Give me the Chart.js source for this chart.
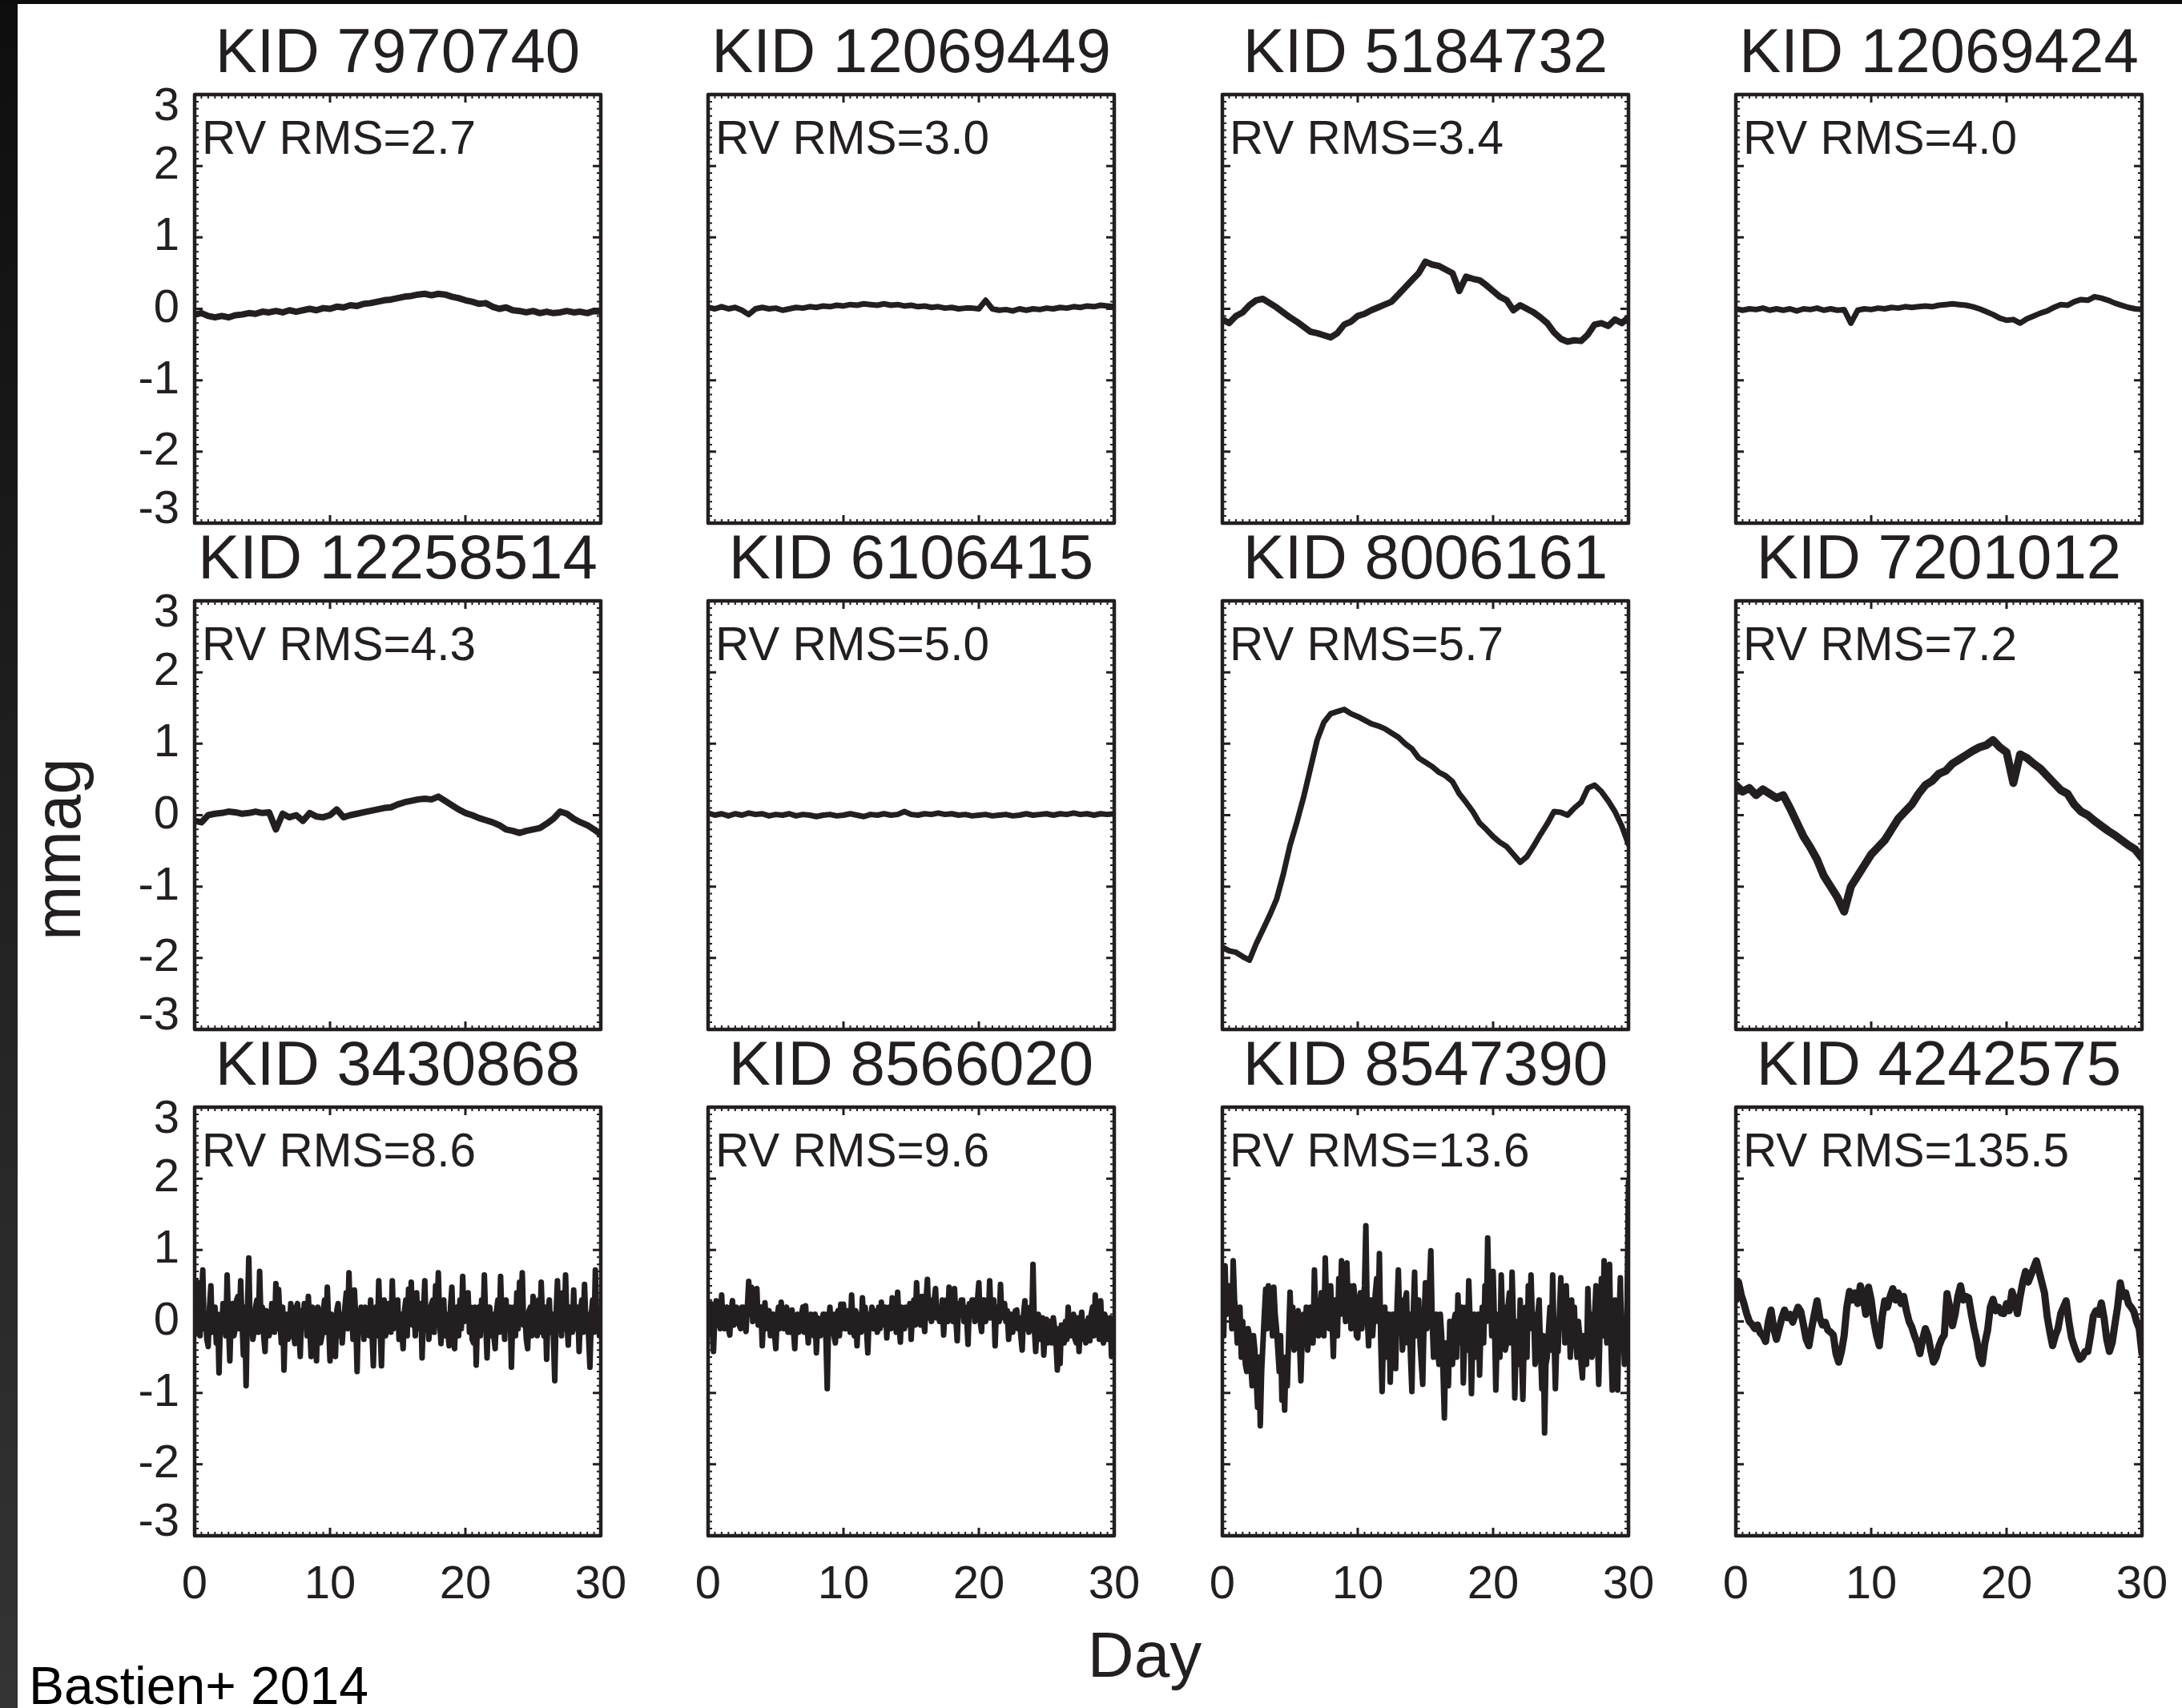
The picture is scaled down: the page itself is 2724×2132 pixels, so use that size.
<!DOCTYPE html>
<html>
<head>
<meta charset="utf-8">
<title>Kepler light curves vs RV RMS</title>
<script src="https://cdn.jsdelivr.net/npm/chart.js@4.4.1/dist/chart.umd.min.js"></script>
<style>
  html, body { margin: 0; padding: 0; background: #fff; }
  #page {
    position: relative; width: 2724px; height: 2132px; overflow: hidden;
    background: #fff; font-family: "Liberation Sans", Arial, sans-serif; color: #231f20;
  }
  #edgeLeft { position: absolute; left: 0; top: 0; width: 22px; height: 2132px; background: linear-gradient(#0e0e0e, #343434); }
  #edgeTop { position: absolute; left: 0; top: 0; width: 2724px; height: 5px; background: #0b0b0b; }
  canvas.panel { position: absolute; }
  .label { position: absolute; white-space: nowrap; line-height: 1; }
  #yTitle { left: 72px; top: 1060px; font-size: 82px; transform: translate(-50%, -50%) rotate(-90deg); }
  #xTitle { left: 1429px; top: 2026px; font-size: 80px; transform: translateX(-50%); }
  #credit { left: 36px; top: 2071px; font-size: 66px; color: #000; }
</style>
</head>
<body>
<div id="page">
  <div id="edgeLeft"></div>
  <div id="edgeTop"></div>
  <div class="label" id="yTitle">mmag</div>
  <div class="label" id="xTitle">Day</div>
  <div class="label" id="credit">Bastien+ 2014</div>
</div>
<script>
/* DATA */
const TITLES = [
  "KID 7970740", "KID 12069449", "KID 5184732", "KID 12069424",
  "KID 12258514", "KID 6106415", "KID 8006161", "KID 7201012",
  "KID 3430868", "KID 8566020", "KID 8547390", "KID 4242575",
];
const RV_NOTES = [
  "RV RMS=2.7", "RV RMS=3.0", "RV RMS=3.4", "RV RMS=4.0",
  "RV RMS=4.3", "RV RMS=5.0", "RV RMS=5.7", "RV RMS=7.2",
  "RV RMS=8.6", "RV RMS=9.6", "RV RMS=13.6", "RV RMS=135.5",
];
const X_TICKS = [0, 10, 20, 30];
const Y_TICKS = [-3, -2, -1, 0, 1, 2, 3];

// mmag, sampled evenly over the 30 days
const kid7970740 = [
  -0.08,-0.06,-0.1,-0.12,-0.1,-0.12,-0.09,-0.08,-0.06,-0.07,
  -0.04,-0.05,-0.03,-0.05,-0.02,-0.04,-0.02,0.0,-0.02,0.01,
  0.0,0.03,0.02,0.05,0.04,0.07,0.08,0.1,0.12,0.13,
  0.15,0.17,0.18,0.2,0.21,0.19,0.21,0.2,0.17,0.15,
  0.12,0.1,0.07,0.08,0.03,0.0,0.02,-0.02,-0.03,-0.05,
  -0.03,-0.06,-0.04,-0.06,-0.05,-0.03,-0.05,-0.04,-0.06,-0.03,
  -0.04,
];
const kid12069449 = [
  0.02,0.0,0.03,0.0,0.02,-0.02,-0.08,0.0,0.02,0.0,
  0.01,-0.02,0.0,0.02,0.01,0.03,0.02,0.04,0.03,0.05,
  0.04,0.06,0.05,0.07,0.06,0.05,0.07,0.05,0.06,0.04,
  0.05,0.03,0.04,0.02,0.03,0.01,0.02,0.0,0.01,0.01,
  0.0,0.12,0.0,-0.02,-0.01,-0.03,0.0,-0.02,0.0,-0.01,
  0.01,0.0,0.02,0.01,0.03,0.02,0.04,0.03,0.05,0.04,
  0.03,
];
const kid5184732 = [
  -0.15,-0.2,-0.1,-0.05,0.05,0.12,0.14,0.08,0.02,-0.05,
  -0.12,-0.18,-0.25,-0.32,-0.34,-0.37,-0.4,-0.34,-0.22,-0.18,
  -0.1,-0.07,-0.02,0.02,0.06,0.1,0.2,0.3,0.4,0.5,
  0.66,0.62,0.6,0.55,0.5,0.25,0.45,0.42,0.4,0.33,
  0.25,0.17,0.12,-0.02,0.05,0.0,-0.05,-0.12,-0.2,-0.33,
  -0.42,-0.46,-0.44,-0.45,-0.36,-0.22,-0.2,-0.24,-0.15,-0.2,
  -0.12,
];
const kid12069424 = [
  0.0,-0.02,0.0,-0.01,0.01,-0.02,0.0,-0.02,0.0,-0.03,
  0.0,-0.01,0.01,-0.02,0.0,-0.02,-0.01,-0.2,-0.02,0.0,
  -0.01,0.01,0.0,0.02,0.01,0.03,0.02,0.03,0.04,0.03,
  0.05,0.06,0.07,0.06,0.05,0.03,0.0,-0.04,-0.08,-0.13,
  -0.16,-0.15,-0.2,-0.14,-0.1,-0.06,-0.03,0.02,0.06,0.05,
  0.1,0.13,0.12,0.17,0.15,0.12,0.08,0.05,0.02,0.0,
  -0.01,
];
const kid12258514 = [
  -0.08,-0.1,0.0,0.02,0.03,0.05,0.04,0.02,0.03,0.05,
  0.03,0.04,-0.2,0.02,-0.03,0.0,-0.08,0.03,-0.02,-0.03,
  0.0,0.08,-0.03,0.0,0.02,0.04,0.06,0.08,0.1,0.11,
  0.15,0.18,0.2,0.22,0.23,0.22,0.26,0.2,0.14,0.08,
  0.03,0.0,-0.04,-0.07,-0.1,-0.14,-0.2,-0.22,-0.25,-0.22,
  -0.2,-0.18,-0.12,-0.05,0.05,0.02,-0.05,-0.1,-0.14,-0.2,
  -0.27,
];
const kid6106415 = [
  0.03,0.0,0.02,-0.01,0.02,0.0,0.03,0.01,0.02,-0.01,
  0.01,0.0,0.02,-0.01,0.01,0.0,-0.02,0.0,0.01,-0.01,
  0.0,0.02,0.0,-0.02,0.01,0.0,0.02,0.0,0.01,0.05,
  0.01,0.0,0.02,0.01,0.03,0.01,0.02,0.0,0.01,-0.01,
  0.0,0.01,-0.01,0.0,0.01,-0.01,0.0,0.02,0.0,0.01,
  0.02,0.0,0.02,0.01,0.03,0.01,0.02,0.0,0.02,0.01,
  0.02,
];
const kid8006161 = [
  -1.85,-1.9,-1.92,-1.98,-2.03,-1.8,-1.6,-1.4,-1.18,-0.83,
  -0.42,-0.1,0.25,0.65,1.05,1.3,1.42,1.45,1.48,1.42,
  1.38,1.33,1.28,1.25,1.21,1.15,1.09,1.0,0.93,0.8,
  0.74,0.68,0.6,0.55,0.47,0.3,0.18,0.05,-0.11,-0.2,
  -0.3,-0.38,-0.44,-0.55,-0.66,-0.58,-0.43,-0.27,-0.12,0.05,
  0.04,0.0,0.1,0.18,0.38,0.42,0.33,0.2,0.05,-0.15,
  -0.41,
];
const kid7201012 = [
  0.42,0.33,0.38,0.28,0.36,0.3,0.24,0.28,0.1,-0.1,
  -0.3,-0.45,-0.62,-0.85,-1.0,-1.15,-1.35,-1.0,-0.85,-0.7,
  -0.55,-0.45,-0.35,-0.2,-0.05,0.05,0.15,0.3,0.42,0.48,
  0.58,0.62,0.72,0.78,0.84,0.9,0.95,0.98,1.05,0.95,
  0.88,0.45,0.85,0.8,0.72,0.65,0.55,0.45,0.35,0.3,
  0.15,0.05,0.0,-0.08,-0.15,-0.22,-0.28,-0.35,-0.42,-0.48,
  -0.6,
];
const kid3430868 = [
  0.3,-0.15,0.55,0.1,-0.2,0.25,0.72,-0.1,0.1,-0.25,-0.35,0.2,0.5,-0.15,0.05,0.2,-0.3,0.1,-0.72,0.0,
  -0.1,0.25,0.2,-0.2,0.65,-0.05,-0.55,0.1,0.25,-0.2,-0.1,0.3,0.35,-0.1,0.57,0.0,-0.47,0.2,-0.9,0.15,
  0.89,-0.1,0.1,-0.25,-0.12,0.2,0.3,-0.15,0.7,0.0,0.2,-0.2,-0.42,0.15,0.1,-0.2,-0.1,0.25,0.2,-0.15,
  0.53,-0.1,0.45,0.05,-0.3,0.2,-0.68,0.05,0.1,-0.25,-0.2,0.25,0.05,-0.15,-0.31,0.2,0.25,-0.1,-0.49,0.15,
  0.0,0.25,0.2,-0.2,0.35,-0.05,-0.49,0.2,0.1,-0.25,-0.55,0.2,0.05,-0.3,-0.2,0.15,0.3,-0.15,0.48,-0.05,
  -0.55,0.1,0.0,-0.25,-0.49,0.15,0.25,-0.2,0.1,-0.3,0.0,0.2,0.4,-0.1,0.68,0.0,0.1,-0.25,0.44,0.05,
  -0.7,0.15,-0.1,0.2,0.05,-0.25,0.2,-0.1,0.1,-0.2,0.3,-0.15,-0.62,0.1,0.2,-0.2,0.57,-0.05,-0.62,0.1,
  0.3,-0.2,-0.1,0.25,0.2,-0.15,0.57,-0.1,0.0,0.2,0.3,-0.25,0.1,-0.15,-0.38,0.15,0.3,-0.2,0.45,0.0,
  0.55,-0.05,0.2,-0.2,0.4,-0.1,-0.1,0.25,-0.51,0.1,0.57,-0.1,0.2,-0.25,0.0,0.25,0.3,-0.15,0.5,-0.05,
  0.68,0.0,-0.31,0.2,0.3,-0.2,0.1,-0.15,-0.34,0.2,0.48,-0.1,-0.38,0.15,0.2,-0.2,0.3,-0.1,0.63,0.0,
  0.1,0.2,0.4,-0.15,0.2,-0.25,-0.3,0.2,-0.61,0.1,0.2,-0.2,0.3,-0.1,0.65,0.0,-0.51,0.15,0.2,-0.2,
  0.1,-0.2,-0.38,0.15,0.3,-0.15,0.63,0.0,0.1,-0.25,0.3,-0.1,0.0,0.2,-0.64,0.1,0.2,-0.2,0.4,-0.1,
  0.55,0.0,0.68,-0.05,0.1,-0.25,-0.38,0.15,0.2,-0.2,0.35,-0.1,0.1,-0.2,0.3,-0.15,0.55,0.0,-0.2,0.2,
  -0.53,0.1,0.3,-0.15,0.1,-0.2,-0.83,0.1,0.57,-0.05,0.2,-0.2,0.4,-0.1,0.65,0.0,-0.33,0.2,0.2,-0.15,
  0.44,-0.1,0.0,0.2,-0.42,0.15,0.3,-0.15,0.52,-0.05,0.1,-0.2,-0.64,0.1,0.3,-0.15,0.72,0.0,0.1,-0.2,
  0.0,
];
const kid8566020 = [
  0.0,0.15,0.25,-0.1,-0.42,0.1,0.29,-0.05,0.1,-0.1,0.37,-0.05,-0.1,0.15,0.2,-0.1,-0.19,0.15,0.29,-0.05,
  0.05,0.2,0.15,-0.05,-0.1,0.2,0.2,-0.05,-0.14,0.2,0.56,0.1,0.48,0.0,0.2,0.2,0.46,-0.05,0.1,0.2,
  -0.34,0.1,0.26,-0.1,0.0,0.15,-0.2,0.1,0.1,-0.15,-0.38,0.05,0.2,-0.1,0.27,-0.05,-0.1,0.15,0.2,-0.15,
  0.05,-0.15,0.16,-0.1,-0.38,0.05,0.1,-0.15,0.0,0.1,0.2,-0.15,0.22,-0.05,-0.3,0.05,0.1,-0.15,-0.2,0.1,
  -0.44,0.05,0.03,-0.2,-0.1,0.1,0.1,-0.2,-0.94,0.0,0.2,-0.15,0.1,-0.2,-0.3,0.1,0.15,-0.2,0.24,-0.1,
  0.24,-0.1,-0.1,0.15,0.1,-0.15,0.37,-0.05,-0.2,0.15,-0.34,0.1,0.05,-0.15,0.33,-0.05,0.2,-0.1,-0.44,0.1,
  0.0,0.2,-0.1,0.15,0.1,-0.15,0.2,-0.1,0.27,-0.05,0.0,0.2,-0.23,0.15,0.2,-0.1,0.33,-0.05,0.1,-0.15,
  0.41,0.0,-0.29,0.2,0.1,-0.1,0.2,-0.05,0.0,0.25,-0.25,0.15,0.3,-0.05,0.54,0.05,0.2,-0.05,0.35,0.05,
  -0.14,0.3,0.59,0.05,0.3,0.0,0.1,0.3,0.46,0.05,0.2,0.0,0.0,0.3,-0.19,0.25,0.3,0.0,0.48,0.05,
  0.2,0.0,0.46,0.05,-0.27,0.25,0.1,0.3,0.3,0.0,0.2,0.05,-0.32,0.25,0.1,0.3,0.3,0.0,0.2,0.3,
  0.54,0.0,-0.14,0.3,0.3,0.0,0.2,0.05,0.57,0.05,0.1,0.3,-0.34,0.2,0.2,0.0,0.52,0.05,0.1,0.25,
  0.0,0.15,-0.25,0.1,0.1,-0.15,0.0,0.15,0.16,-0.1,0.05,-0.2,-0.4,0.1,0.29,-0.1,0.1,-0.15,0.2,-0.1,
  0.8,-0.1,-0.42,0.0,0.1,-0.25,-0.2,0.05,-0.47,-0.05,0.03,-0.3,-0.2,0.0,-0.3,0.05,-0.1,-0.3,-0.68,-0.1,
  -0.59,-0.05,-0.1,-0.3,0.0,-0.25,0.2,-0.2,-0.2,0.05,0.1,-0.25,-0.3,0.05,-0.42,-0.05,0.13,-0.25,0.0,-0.3,
  -0.2,0.05,-0.27,0.1,0.2,-0.2,0.37,-0.1,0.1,-0.25,0.29,-0.15,-0.3,0.1,0.0,-0.25,-0.2,0.05,-0.49,-0.15,
  -0.3,
];
const kid8547390 = [
  0.3,-0.2,0.78,0.1,0.2,0.5,0.5,-0.1,0.85,0.3,0.1,-0.3,-0.2,0.2,-0.5,0.0,-0.3,-0.6,-0.7,-0.1,
  -0.2,-0.6,-0.9,-0.2,-0.4,-0.8,-1.2,-0.5,-1.46,-0.7,-0.3,0.1,0.45,-0.1,0.5,0.0,0.3,-0.2,0.48,0.1,
  -0.1,-0.4,-0.7,-0.2,-1.1,-0.6,-1.24,-0.5,-0.9,-0.2,0.41,-0.1,0.2,-0.4,-0.3,0.1,0.15,-0.3,-0.83,-0.2,
  0.1,-0.3,0.2,-0.4,-0.2,0.2,0.15,-0.3,0.72,0.0,0.3,-0.2,0.0,0.4,0.2,-0.2,0.89,0.2,0.3,-0.1,
  0.5,0.0,-0.49,0.3,0.2,-0.2,0.6,0.1,0.85,0.2,0.4,0.0,0.82,0.1,0.5,-0.1,0.2,0.5,0.3,-0.2,
  -0.23,0.2,0.4,-0.1,0.2,0.5,1.34,0.1,-0.34,0.3,0.3,-0.2,0.1,0.4,0.6,0.0,0.95,-0.3,-0.98,-0.2,
  0.2,-0.5,-0.4,0.1,-0.85,-0.2,0.1,-0.4,-0.66,0.2,0.72,0.0,0.3,-0.4,-0.2,0.3,0.4,-0.3,0.1,-0.5,
  -0.98,0.1,0.69,-0.2,0.0,0.3,-0.3,-0.6,-0.88,0.0,0.54,-0.1,0.2,0.5,0.99,0.0,-0.5,-0.1,0.1,-0.4,
  -0.6,0.1,-0.2,-0.7,-1.35,-0.3,-0.4,-0.9,0.0,-0.5,-0.6,0.0,0.1,-0.5,0.37,-0.2,-0.3,0.2,-0.86,-0.2,
  0.2,-0.4,0.57,0.0,-1.01,-0.2,0.1,-0.5,-0.4,0.1,-0.75,-0.1,0.2,-0.3,0.5,0.0,1.17,0.2,0.4,-0.2,
  0.7,0.0,-0.96,-0.2,0.1,-0.5,0.65,0.0,0.2,-0.4,-0.3,0.2,0.4,-0.3,0.69,0.0,-1.07,-0.3,0.0,-0.6,
  0.3,-0.5,-1.09,-0.2,0.2,-0.5,0.5,-0.1,0.65,0.0,0.1,-0.6,-0.4,0.1,0.3,-0.4,-0.94,-0.2,-1.56,-0.6,
  -0.5,-0.1,0.2,-0.4,0.65,-0.2,-0.94,-0.3,-0.42,0.1,0.61,0.0,0.4,-0.3,0.5,-0.1,0.1,-0.5,0.3,-0.3,
  0.2,-0.3,-0.5,0.0,-0.2,-0.6,-0.79,-0.2,-0.3,-0.6,0.46,-0.1,0.1,-0.5,-0.4,0.1,0.5,-0.2,-0.88,-0.1,
  0.6,-0.2,0.85,0.1,-0.3,0.3,0.8,-0.3,-0.96,0.0,0.3,-0.4,-0.96,0.0,0.61,-0.3,0.0,-0.6,-0.5,0.3,
  1.95,
];
const kid4242575 = [
  0.3,0.55,0.37,0.25,0.11,0.0,-0.04,-0.1,-0.05,-0.16,
  -0.2,-0.28,0.0,0.16,-0.1,-0.25,-0.1,0.05,0.16,0.05,
  0.1,-0.01,0.1,0.2,0.14,-0.05,-0.25,-0.34,-0.1,0.1,
  0.29,0.05,-0.05,-0.01,-0.12,-0.15,-0.19,-0.45,-0.57,-0.42,
  -0.2,0.2,0.42,0.3,0.4,0.25,0.5,0.35,0.1,0.48,
  0.3,0.0,-0.2,-0.34,0.05,0.29,0.2,0.35,0.46,0.3,
  0.4,0.25,0.35,0.15,0.0,-0.08,-0.2,-0.3,-0.45,-0.25,
  -0.1,-0.2,-0.4,-0.57,-0.5,-0.35,-0.25,-0.19,0.39,0.2,
  -0.06,0.1,0.35,0.5,0.3,0.35,0.33,0.1,-0.1,-0.27,
  -0.5,-0.59,-0.3,-0.12,0.2,0.31,0.15,0.2,0.12,0.11,
  0.25,0.15,0.42,0.3,0.11,0.35,0.55,0.7,0.55,0.65,
  0.75,0.85,0.7,0.55,0.4,0.07,-0.15,-0.34,-0.2,-0.1,
  0.11,0.2,0.29,0.0,-0.23,-0.35,-0.45,-0.53,-0.5,-0.42,
  -0.42,-0.2,0.07,0.15,0.1,0.26,0.05,-0.25,-0.42,-0.3,
  -0.04,0.2,0.54,0.35,0.4,0.25,0.2,0.14,0.0,-0.1,
  -0.45,
];

const SERIES = [
  kid7970740, kid12069449, kid5184732, kid12069424,
  kid12258514, kid6106415, kid8006161, kid7201012,
  kid3430868, kid8566020, kid8547390, kid4242575,
];

/* LAYOUT */
const INK = "#231f20";
const FONT = "'Liberation Sans', Arial, Helvetica, sans-serif";
const BOX_LEFT = [243, 884, 1526, 2167];
const BOX_TOP = [118, 750, 1382];
const BOX_W = 507;
const BOX_H = 535;
const AXIS_W = 120;   // room for y tick labels left of the box
const HEAD_H = 118;   // title block above the box
const FOOT_H = 110;   // x tick labels below the box
const PAD_R = 45;
// trace thickness per panel (noisier stars get a fatter trace, as in the print)
const LINE_W = [8, 7, 8, 7, 8, 7, 7, 10, 7, 7, 7, 9];

Chart.defaults.font.family = FONT;
Chart.defaults.color = INK;

/* HELPERS */
function toPoints(vals) {
  const x0 = X_TICKS[0];
  const step = (X_TICKS[X_TICKS.length - 1] - x0) / (vals.length - 1);
  return vals.map((v, i) => ({ x: x0 + i * step, y: v }));
}

// end labels sit inside the box in the original, so nudge them with an empty line
function yTickLabel(v) {
  if (v === Y_TICKS[Y_TICKS.length - 1]) return ["", String(v)];
  if (v === Y_TICKS[0]) return [String(v), ""];
  return String(v);
}

// matlab-like box: frame, inward ticks, and the RV note in the corner
const framePlugin = {
  id: "frame",
  afterDatasetsDraw(chart, args, opts) {
    const { ctx, chartArea: a, scales } = chart;
    const x = scales.x, y = scales.y;
    ctx.save();
    ctx.strokeStyle = INK;
    ctx.lineCap = "butt";

    // minor ticks
    ctx.lineWidth = 2;
    ctx.beginPath();
    for (let k = 0; k <= 60; k++) {
      const px = x.getPixelForValue(k / 2);
      ctx.moveTo(px, a.top); ctx.lineTo(px, a.top + 5);
      ctx.moveTo(px, a.bottom); ctx.lineTo(px, a.bottom - 5);
    }
    for (let k = -30; k <= 30; k++) {
      const py = y.getPixelForValue(k / 10);
      ctx.moveTo(a.left, py); ctx.lineTo(a.left + 5, py);
      ctx.moveTo(a.right, py); ctx.lineTo(a.right - 5, py);
    }
    ctx.stroke();

    // major ticks
    ctx.lineWidth = 3;
    ctx.beginPath();
    X_TICKS.forEach((v) => {
      const px = x.getPixelForValue(v);
      ctx.moveTo(px, a.top); ctx.lineTo(px, a.top + 10);
      ctx.moveTo(px, a.bottom); ctx.lineTo(px, a.bottom - 10);
    });
    Y_TICKS.forEach((v) => {
      const py = y.getPixelForValue(v);
      ctx.moveTo(a.left, py); ctx.lineTo(a.left + 10, py);
      ctx.moveTo(a.right, py); ctx.lineTo(a.right - 10, py);
    });
    ctx.stroke();

    ctx.lineWidth = 4.5;
    ctx.lineJoin = "round";
    ctx.strokeRect(a.left, a.top, a.right - a.left, a.bottom - a.top);

    ctx.fillStyle = INK;
    ctx.font = "58.5px " + FONT;
    ctx.textAlign = "left";
    ctx.textBaseline = "alphabetic";
    ctx.fillText(opts.note, a.left + 9, a.top + 74);
    ctx.restore();
  },
};

/* PANELS */
const page = document.getElementById("page");

function makePanel(idx) {
  const col = idx % 4;
  const row = Math.floor(idx / 4);
  const canvas = document.createElement("canvas");
  canvas.className = "panel";
  canvas.width = AXIS_W + BOX_W + PAD_R;
  canvas.height = HEAD_H + BOX_H + FOOT_H;
  canvas.style.left = BOX_LEFT[col] - AXIS_W + "px";
  canvas.style.top = BOX_TOP[row] - HEAD_H + "px";
  page.appendChild(canvas);

  return new Chart(canvas, {
    type: "line",
    data: {
      datasets: [{
        data: toPoints(SERIES[idx]),
        borderColor: INK,
        borderWidth: LINE_W[idx],
        pointRadius: 0,
        tension: 0,
        borderJoinStyle: "round",
        borderCapStyle: "round",
        clip: 0,
      }],
    },
    options: {
      responsive: false,
      animation: false,
      devicePixelRatio: 1,
      events: [],
      layout: { padding: { left: 0, top: 0, right: PAD_R, bottom: 0 } },
      plugins: {
        legend: { display: false },
        tooltip: { enabled: false },
        title: {
          display: true,
          text: TITLES[idx],
          fullSize: false,
          color: INK,
          font: { size: 78, weight: "normal", lineHeight: 1.2 },
          padding: { top: 22, bottom: 2.4 },
        },
        frame: { note: RV_NOTES[idx] },
      },
      scales: {
        x: {
          type: "linear",
          min: X_TICKS[0],
          max: X_TICKS[X_TICKS.length - 1],
          grid: { display: false, drawTicks: false },
          border: { display: false },
          ticks: {
            display: row === 2,
            font: { size: 58 },
            color: INK,
            padding: 27,
            maxRotation: 0,
            autoSkip: false,
          },
          afterBuildTicks: (s) => { s.ticks = X_TICKS.map((v) => ({ value: v })); },
          afterFit: (s) => {
            s.height = FOOT_H;
            s.paddingLeft = 0;
            s.paddingRight = 0;
          },
        },
        y: {
          type: "linear",
          min: Y_TICKS[0],
          max: Y_TICKS[Y_TICKS.length - 1],
          grid: { display: false, drawTicks: false },
          border: { display: false },
          ticks: {
            display: col === 0,
            font: { size: 58, lineHeight: 0.55 },
            color: INK,
            padding: 19,
            autoSkip: false,
            callback: yTickLabel,
          },
          afterBuildTicks: (s) => { s.ticks = Y_TICKS.map((v) => ({ value: v })); },
          afterFit: (s) => {
            s.width = AXIS_W;
            s.paddingTop = 0;
            s.paddingBottom = 0;
          },
        },
      },
    },
    plugins: [framePlugin],
  });
}

SERIES.forEach((_, i) => makePanel(i));
</script>
</body>
</html>
